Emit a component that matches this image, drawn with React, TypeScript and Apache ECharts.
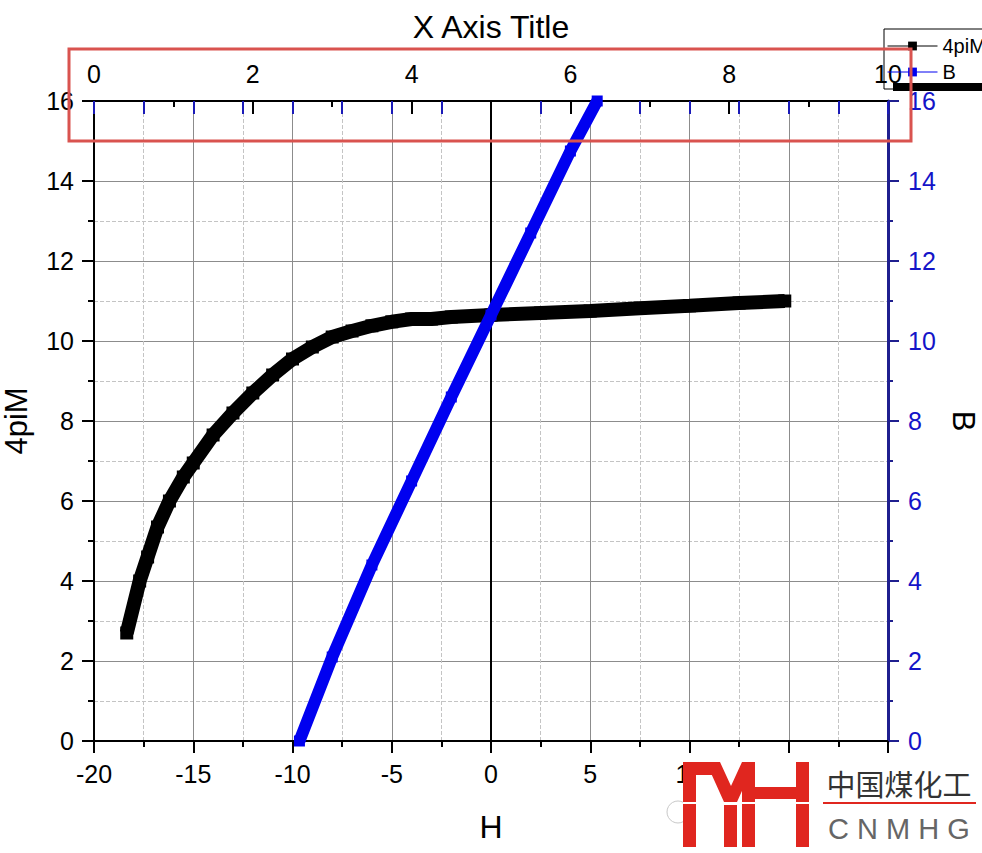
import React, { useEffect, useRef } from "react";
import * as echarts from "echarts";

// ---- data ----
const hMag = [-18.35, -17.7, -17.3, -16.8, -16.2, -15.5, -15, -14, -13, -12, -11, -10, -9, -8, -7, -6, -5, -4, -3, -2, 0, 2.5, 5, 7.5, 10, 12.5, 14.8];
const m4pi = [2.7, 4.0, 4.6, 5.35, 6.0, 6.6, 6.95, 7.65, 8.2, 8.7, 9.15, 9.55, 9.85, 10.1, 10.25, 10.38, 10.48, 10.55, 10.55, 10.6, 10.65, 10.7, 10.75, 10.82, 10.88, 10.95, 11.0];
const hB = [-9.65, -8, -6, -4, -2, 0, 2, 4, 5.35];
const bVals = [0, 2.1, 4.4, 6.5, 8.6, 10.65, 12.7, 14.75, 16];

const seriesNames = ["4piM", "B"];
const axisTitles = { bottom: "H", top: "X Axis Title", left: "4piM", right: "B" };
const watermarkCN = "中国煤化工";
const watermarkEN = "C N M H G";

const FONT = "'Liberation Sans', Arial, sans-serif";

export default function App() {
  const ref = useRef<HTMLDivElement>(null);

  useEffect(() => {
    if (!ref.current) return;
    const chart = echarts.init(ref.current, undefined, { renderer: "svg" });
    const red = "#e0261f";
    const option: any = {
      animation: false,
      backgroundColor: "#ffffff",
      textStyle: { fontFamily: FONT },
      grid: { left: 94, right: 94, top: 101, bottom: 112, containLabel: false, outerBoundsMode: "none" },
      legend: {
        data: seriesNames,
        orient: "vertical",
        left: 884,
        top: 29,
        itemWidth: 50,
        itemHeight: 11,
        itemGap: 6,
        padding: [7, 6, 7, 3],
        borderColor: "#000",
        borderWidth: 1,
        borderRadius: 0,
        backgroundColor: "transparent",
        lineStyle: { width: 1 },
        textStyle: { fontSize: 20, color: "#000", fontFamily: FONT },
      },
      xAxis: [
        {
          type: "value",
          position: "bottom",
          min: -20,
          max: 20,
          interval: 5,
          name: axisTitles.bottom,
          nameLocation: "middle",
          nameGap: 70,
          nameTextStyle: { fontSize: 32, color: "#000", fontFamily: FONT },
          axisLine: { show: true, onZero: false, lineStyle: { color: "#000", width: 2 } },
          axisTick: { show: true, inside: false, length: 12, lineStyle: { color: "#000", width: 2 } },
          minorTick: { show: true, splitNumber: 2, length: 6, lineStyle: { color: "#000", width: 2 } },
          axisLabel: {
            fontSize: 25,
            color: "#000",
            margin: 20,
            fontFamily: FONT,
            // labels 15 and 20 are hidden under the watermark in the reference
            formatter: (v: number) => (v >= 15 ? "" : String(v)),
          },
          splitLine: { show: true, lineStyle: { color: "#8c8c8c", width: 1 } },
          minorSplitLine: { show: true, lineStyle: { color: "#c4c4c4", type: "dashed", width: 1 } },
        },
        {
          type: "value",
          position: "top",
          min: 0,
          max: 10,
          interval: 2,
          name: axisTitles.top,
          nameLocation: "middle",
          nameGap: 58,
          nameTextStyle: { fontSize: 32, color: "#000", fontFamily: FONT },
          axisLine: { show: true, onZero: false, lineStyle: { color: "#000", width: 2 } },
          axisTick: { show: true, inside: true, length: 13, lineStyle: { color: "#000", width: 2 } },
          minorTick: { show: true, splitNumber: 2, length: 6, lineStyle: { color: "#000", width: 2 } },
          axisLabel: { fontSize: 25, color: "#000", margin: 15, fontFamily: FONT },
          splitLine: { show: false },
        },
        {
          type: "value",
          position: "top",
          min: -20,
          max: 20,
          interval: 2.5,
          axisLine: { show: false, onZero: false },
          axisTick: { show: true, inside: true, length: 13, lineStyle: { color: "#1a1ab8", width: 2 } },
          axisLabel: { show: false },
          splitLine: { show: false },
        },
      ],
      yAxis: [
        {
          type: "value",
          position: "left",
          min: 0,
          max: 16,
          interval: 2,
          name: axisTitles.left,
          nameLocation: "middle",
          nameGap: 62,
          nameRotate: 90,
          nameTextStyle: { fontSize: 31, color: "#000", fontFamily: FONT },
          axisLine: { show: true, onZero: false, lineStyle: { color: "#000", width: 2 } },
          axisTick: { show: true, inside: false, length: 12, lineStyle: { color: "#000", width: 2 } },
          minorTick: { show: true, splitNumber: 2, length: 6, lineStyle: { color: "#000", width: 2 } },
          axisLabel: { fontSize: 25, color: "#000", margin: 20, fontFamily: FONT },
          splitLine: { show: true, lineStyle: { color: "#8c8c8c", width: 1 } },
          minorSplitLine: { show: true, lineStyle: { color: "#c4c4c4", type: "dashed", width: 1 } },
        },
        {
          type: "value",
          position: "right",
          min: 0,
          max: 16,
          interval: 2,
          name: axisTitles.right,
          nameLocation: "middle",
          nameGap: 60,
          nameRotate: -90,
          nameTextStyle: { fontSize: 31, color: "#000", fontFamily: FONT },
          axisLine: { show: true, onZero: false, lineStyle: { color: "#1f1f8f", width: 3 } },
          axisTick: { show: true, inside: false, length: 11, lineStyle: { color: "#1f1f8f", width: 2 } },
          minorTick: { show: true, splitNumber: 2, length: 5, lineStyle: { color: "#1f1f8f", width: 2 } },
          axisLabel: { fontSize: 25, color: "#1414c8", margin: 20, fontFamily: FONT },
          splitLine: { show: false },
        },
      ],
      series: [
        {
          type: "line",
          name: seriesNames[0],
          xAxisIndex: 0,
          yAxisIndex: 0,
          data: hMag.map((h, i) => [h, m4pi[i]]),
          symbol: "rect",
          symbolSize: 13,
          showSymbol: true,
          lineStyle: { color: "#000", width: 14 },
          itemStyle: { color: "#000" },
          z: 3,
          markLine: {
            silent: true,
            symbol: ["none", "none"],
            label: { show: false },
            lineStyle: { color: "#000", width: 2, type: "solid" },
            data: [{ xAxis: 0 }],
            z: 1,
          },
        },
        {
          type: "line",
          name: seriesNames[1],
          xAxisIndex: 0,
          yAxisIndex: 1,
          data: hB.map((h, i) => [h, bVals[i]]),
          symbol: "rect",
          symbolSize: 11,
          showSymbol: true,
          lineStyle: { color: "#0000f0", width: 12 },
          itemStyle: { color: "#0000f0" },
          z: 4,
        },
      ],
      graphic: [
        {
          type: "rect",
          shape: { x: 69, y: 49, width: 842, height: 92 },
          style: { fill: "none", stroke: "#d9534f", lineWidth: 3 },
          z: 100,
        },
        {
          type: "rect",
          shape: { x: 893, y: 83, width: 89, height: 8 },
          style: { fill: "#000" },
          z: 99,
        },
        // watermark
        {
          type: "rect",
          shape: { x: 683, y: 758, width: 299, height: 95 },
          style: { fill: "#fff" },
          z: 110,
        },
        {
          type: "circle",
          shape: { cx: 678, cy: 812, r: 11 },
          style: { fill: "none", stroke: "#c8c8c8", lineWidth: 1 },
          z: 110,
        },
        { type: "rect", shape: { x: 683, y: 762, width: 13, height: 85 }, style: { fill: red }, z: 111 },
        { type: "rect", shape: { x: 683, y: 762, width: 36, height: 13 }, style: { fill: red }, z: 111 },
        {
          type: "polygon",
          shape: { points: [[706, 762], [720, 762], [731, 786], [742, 762], [755, 762], [737, 802], [724, 802]] },
          style: { fill: red },
          z: 111,
        },
        { type: "rect", shape: { x: 724, y: 805, width: 13, height: 42 }, style: { fill: red }, z: 111 },
        { type: "rect", shape: { x: 742, y: 762, width: 13, height: 85 }, style: { fill: red }, z: 111 },
        { type: "rect", shape: { x: 796, y: 762, width: 13, height: 85 }, style: { fill: red }, z: 111 },
        { type: "rect", shape: { x: 742, y: 787, width: 67, height: 12 }, style: { fill: red }, z: 111 },
        { type: "rect", shape: { x: 683, y: 802, width: 126, height: 2 }, style: { fill: "#fff" }, z: 112 },
        {
          type: "text",
          x: 899,
          y: 783,
          style: {
            text: watermarkCN,
            fill: "#333",
            font: "29px 'Noto Sans CJK SC', sans-serif",
            textAlign: "center",
            textVerticalAlign: "middle",
          },
          z: 113,
        },
        { type: "rect", shape: { x: 823, y: 802, width: 153, height: 2 }, style: { fill: red }, z: 113 },
        {
          type: "text",
          x: 899,
          y: 829,
          style: {
            text: watermarkEN,
            fill: "#666",
            font: "29px 'Liberation Sans', Arial, sans-serif",
            textAlign: "center",
            textVerticalAlign: "middle",
          },
          z: 113,
        },
      ],
    };
    chart.setOption(option);
    return () => chart.dispose();
  }, []);

  return (
    <div
      ref={ref}
      style={{ position: "fixed", left: 0, top: 0, width: 982, height: 853, background: "#fff" }}
    />
  );
}
